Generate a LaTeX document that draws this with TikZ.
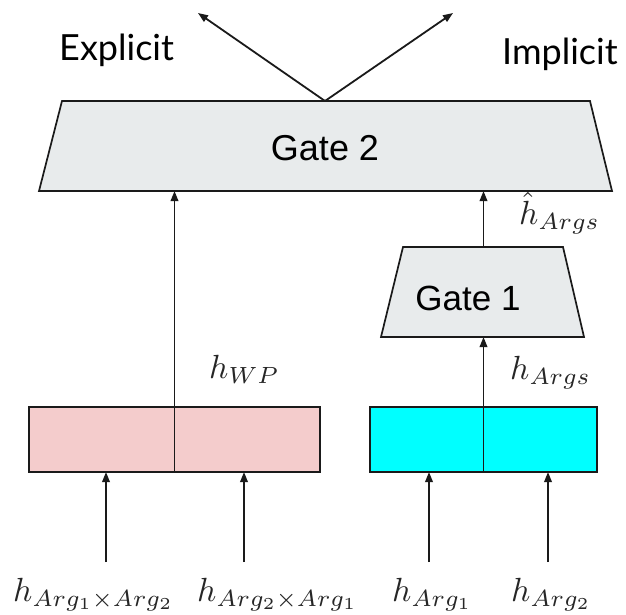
\documentclass[tikz,border=0pt]{standalone}
\usepackage{fontspec}
\newfontfamily\latofont{Lato}
\newfontfamily\arialfont{Liberation Sans}
\usetikzlibrary{arrows.meta}
\definecolor{gatefill}{HTML}{E8EBEC}
\definecolor{pinkfill}{HTML}{F4CCCC}
\definecolor{cyanfill}{HTML}{00FFFF}
\definecolor{ink}{HTML}{1A1A1A}
\newcommand\bigmath[1]{\scalebox{3.35}{$#1$}}
\begin{document}
\begin{tikzpicture}[x=1pt,y=-1pt,
  gateshape/.style={draw=ink, line width=1.7pt, fill=gatefill, line join=miter},
  vecbox/.style={rectangle, draw=ink, line width=2.2pt, inner sep=0pt, outer sep=0pt,
    minimum height=65pt},
  arr/.style={draw=ink, line width=1.8pt, -{Triangle[length=10pt,width=7.5pt]}},
  plain/.style={draw=ink, line width=1.6pt},
  sanslbl/.style={inner sep=0pt, font=\fontsize{36}{40}\selectfont\latofont},
  gatelbl/.style={inner sep=0pt, font=\fontsize{36}{40}\selectfont\arialfont},
  mathlbl/.style={inner sep=0pt, text=black!85}]
\useasboundingbox (0,0) rectangle (626,614);

% gate 2
\coordinate (g2tl) at (62,101);
\coordinate (g2tr) at (590,101);
\coordinate (g2br) at (612,191);
\coordinate (g2bl) at (39,191);
\coordinate (g2top) at (325,101);
\draw[gateshape] (g2tl) -- (g2tr) -- (g2br) -- (g2bl) -- cycle;
\node[gatelbl] (gate2) at (325,148) {Gate 2};

% gate 1
\coordinate (g1tl) at (403,247);
\coordinate (g1tr) at (563,247);
\coordinate (g1br) at (584,337);
\coordinate (g1bl) at (381,337);
\draw[gateshape] (g1tl) -- (g1tr) -- (g1br) -- (g1bl) -- cycle;
\node[gatelbl, font=\fontsize{35}{40}\selectfont\arialfont] (gate1) at (468,298) {Gate 1};

% vectors
\node[vecbox, fill=pinkfill, minimum width=291pt] (wp) at (174.5,439.5) {};
\node[vecbox, fill=cyanfill, minimum width=227pt] (args) at (483.5,439.5) {};
\draw[plain, line width=1.3pt] (wp.north) -- (wp.south);
\draw[plain, line width=1.8pt] (args.north) -- (args.south);

% upward connectors
\draw[arr] (wp.north) -- (wp.north |- g2bl);
\draw[arr] (args.north) -- (args.north |- g1bl);
\draw[arr] (args.north |- g1tl) -- (args.north |- g2bl);

% output arrows
\coordinate (outL) at (198,13);
\coordinate (outR) at (453,13);
\draw[arr] (g2top) -- (outL);
\draw[arr] (g2top) -- (outR);
\node[sanslbl, anchor=base west] (explicit) at (59,60) {Explicit};
\node[sanslbl, anchor=base west] (implicit) at (502,64) {Implicit};

% input arrows
\coordinate (in1) at (106,562);
\coordinate (in2) at (244,562);
\coordinate (in3) at (429,562);
\coordinate (in4) at (548,562);
\draw[arr] (in1) -- (in1 |- wp.south);
\draw[arr] (in2) -- (in2 |- wp.south);
\draw[arr] (in3) -- (in3 |- args.south);
\draw[arr] (in4) -- (in4 |- args.south);

% math labels
\node[mathlbl, anchor=base west] (l1) at (13,601) {\bigmath{h_{Arg_1\times Arg_2}}};
\node[mathlbl, anchor=base west] (l2) at (197,601) {\bigmath{h_{Arg_2\times Arg_1}}};
\node[mathlbl, anchor=base west] (l3) at (392,601) {\bigmath{h_{Arg_1}}};
\node[mathlbl, anchor=base west] (l4) at (511,601) {\bigmath{h_{Arg_2}}};
\node[mathlbl, anchor=base west] (hwp) at (209,378) {\bigmath{h_{WP}}};
\node[mathlbl, anchor=base west] (hargs) at (510,379) {\bigmath{h_{Args}}};
\node[mathlbl, anchor=base west] (hhat) at (519,224) {\bigmath{\hat{h}_{Args}}};
\end{tikzpicture}
\end{document}
